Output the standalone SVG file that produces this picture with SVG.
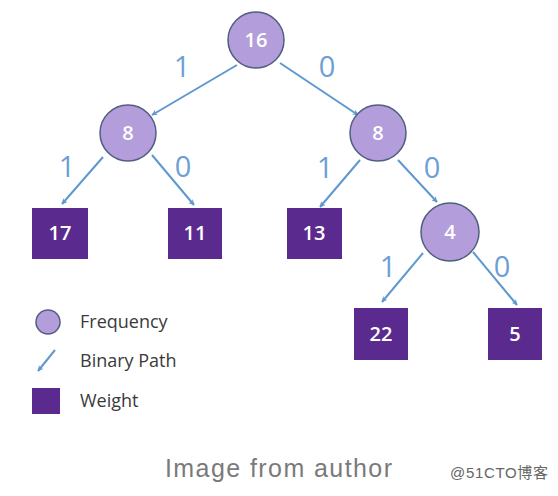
<svg xmlns="http://www.w3.org/2000/svg" width="558" height="496" viewBox="0 0 558 496">
<defs>
<marker id="ah" viewBox="0 0 10 10" refX="9" refY="5" markerWidth="6" markerHeight="6" orient="auto" markerUnits="userSpaceOnUse">
<path d="M0,0 L10,5 L0,10 L3,5 Z" fill="#5f98d0"/>
</marker>
<style>
.freq{fill:#b39ddb;stroke:#4f5f80;stroke-width:1.5}
.wt{fill:#5b2a8e}
.ntxt{font-family:"Open Sans","Noto Sans",sans-serif;fill:#ffffff;font-size:20px;text-anchor:middle;font-weight:600}
.edge{stroke:#5f98d0;stroke-width:2;fill:none;marker-end:url(#ah)}
.lbl{font-family:"Open Sans","Noto Sans",sans-serif;fill:#6c9fd4;font-size:29px;text-anchor:middle}
.leg{font-family:"Open Sans","Noto Sans",sans-serif;fill:#3a3a3a;font-size:18px}
</style>
</defs>
<rect width="558" height="496" fill="#ffffff"/>
<g id="connectors">
<line class="edge" x1="237" y1="65" x2="152" y2="115"/>
<line class="edge" x1="280" y1="63" x2="358" y2="115"/>
<line class="edge" x1="103" y1="157" x2="62" y2="204"/>
<line class="edge" x1="152" y1="155" x2="194" y2="205"/>
<line class="edge" x1="360" y1="160" x2="320" y2="207"/>
<line class="edge" x1="398" y1="160" x2="437" y2="202"/>
<line class="edge" x1="423" y1="253" x2="382" y2="302"/>
<line class="edge" x1="473" y1="252" x2="517" y2="305"/>
<text class="lbl" x="182" y="77">1</text>
<text class="lbl" x="327" y="77">0</text>
<text class="lbl" x="67" y="177">1</text>
<text class="lbl" x="183" y="177">0</text>
<text class="lbl" x="325" y="178">1</text>
<text class="lbl" x="432" y="178">0</text>
<text class="lbl" x="388" y="277">1</text>
<text class="lbl" x="502" y="277">0</text>
</g>
<g id="n16"><circle class="freq" cx="256" cy="40" r="28"/><text class="ntxt" x="256" y="47">16</text></g>
<g id="n8a"><circle class="freq" cx="128" cy="133" r="28"/><text class="ntxt" x="128" y="140">8</text></g>
<g id="n8b"><circle class="freq" cx="378" cy="133" r="28"/><text class="ntxt" x="378" y="140">8</text></g>
<g id="n4"><circle class="freq" cx="450" cy="232" r="29"/><text class="ntxt" x="450" y="239">4</text></g>
<g id="w17"><rect class="wt" x="32" y="208" width="56" height="51"/><text class="ntxt" x="60" y="240">17</text></g>
<g id="w11"><rect class="wt" x="168" y="208" width="54" height="51"/><text class="ntxt" x="195" y="240">11</text></g>
<g id="w13"><rect class="wt" x="287" y="208" width="55" height="51"/><text class="ntxt" x="314" y="240">13</text></g>
<g id="w22"><rect class="wt" x="354" y="308" width="54" height="52"/><text class="ntxt" x="381" y="341">22</text></g>
<g id="w5"><rect class="wt" x="488" y="308" width="54" height="52"/><text class="ntxt" x="515" y="341">5</text></g>
<g id="legend">
<circle class="freq" cx="48" cy="322" r="12"/>
<text class="leg" x="80" y="328">Frequency</text>
<line x1="55" y1="350" x2="38" y2="371" stroke="#5f98d0" stroke-width="2" marker-end="url(#ah)"/>
<text class="leg" x="80" y="367">Binary Path</text>
<rect class="wt" x="32" y="388" width="28" height="26"/>
<text class="leg" x="80" y="407">Weight</text>
</g>
<text x="165" y="477" font-family="Liberation Sans, Arial, sans-serif" font-size="25" fill="#7a7a7a" textLength="227" lengthAdjust="spacing">Image from author</text>
<text x="450" y="478" font-family="Liberation Sans, 'Noto Sans CJK SC', sans-serif" font-size="15" fill="#666" textLength="98" lengthAdjust="spacing">@51CTO博客</text>
</svg>
